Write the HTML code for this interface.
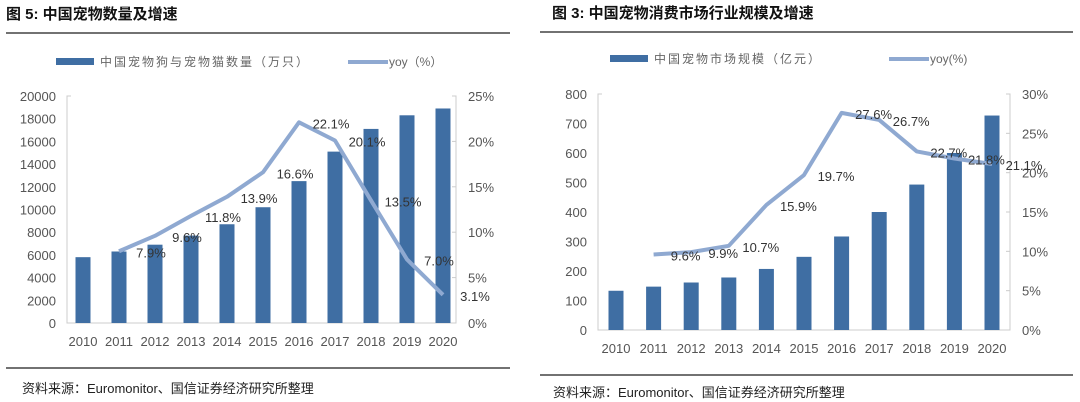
<!DOCTYPE html>
<html><head><meta charset="utf-8"><style>
html,body{margin:0;padding:0;background:#fff;}
svg{display:block;font-family:"Liberation Sans","Noto Sans CJK SC",sans-serif;}
</style></head><body>
<svg id="s" width="1080" height="402" viewBox="0 0 1080 402">
<text x="6" y="19" font-size="15" font-weight="bold" fill="#111">图 5:  中国宠物数量及增速</text>
<line x1="6" y1="33" x2="510" y2="33" stroke="#444" stroke-width="1.5"/>
<text x="552" y="18" font-size="15" font-weight="bold" fill="#111">图 3:  中国宠物消费市场行业规模及增速</text>
<line x1="540" y1="32" x2="1073" y2="32" stroke="#444" stroke-width="1.5"/>
<g id="L"></g><g id="R"></g>
<line x1="6" y1="368" x2="510" y2="368" stroke="#444" stroke-width="1.5"/>
<text x="22" y="393" font-size="13" fill="#222">资料来源：Euromonitor、国信证券经济研究所整理</text>
<line x1="540" y1="375" x2="1073" y2="375" stroke="#444" stroke-width="1.5"/>
<text x="553" y="397" font-size="13" fill="#222">资料来源：Euromonitor、国信证券经济研究所整理</text>
</svg>
<script>
const years = ["2010","2011","2012","2013","2014","2015","2016","2017","2018","2019","2020"];
const petCount = [5800,6300,6900,7700,8700,10200,12500,15100,17100,18300,18900];
const petCountYoy = [null,7.9,9.6,11.8,13.9,16.6,22.1,20.1,13.5,7.0,3.1];
const leftTicks = [0,2000,4000,6000,8000,10000,12000,14000,16000,18000,20000];
const leftPctTicks = [0,5,10,15,20,25];
const marketSize = [133,147,161,178,207,248,317,400,493,600,727];
const marketYoy = [null,9.6,9.9,10.7,15.9,19.7,27.6,26.7,22.7,21.8,21.1];
const rightTicks = [0,100,200,300,400,500,600,700,800];
const rightPctTicks = [0,5,10,15,20,25,30];
const NS="http://www.w3.org/2000/svg";
function mk(g,tag,at,txt){const e=document.createElementNS(NS,tag);for(const k in at)e.setAttribute(k,at[k]);if(txt!=null)e.textContent=txt;g.appendChild(e);return e;}
function draw(gid,c){
  const g=document.getElementById(gid);
  const y=v=>c.y0-v/c.vmax*(c.y0-c.y1);
  const yp=v=>c.y0-v/c.pmax*(c.y0-c.y1);
  const x=i=>c.x0+i*c.step;
  let e;
  e=mk(g,'rect',{x:c.legX,y:c.legY-4,width:38,height:7,fill:'#3f6ea3'});
  
  
  e=mk(g,'text',{x:c.legX+44,y:c.legY+4,'font-size':12,fill:'#666','letter-spacing':'2'},c.legBar);
  
  
  e=mk(g,'line',{x1:c.legX2,y1:c.legY,x2:c.legX2+40,y2:c.legY,stroke:'#8fa9d1','stroke-width':4});
  
  
  e=mk(g,'text',{x:c.legX2+41,y:c.legY+4,'font-size':12,fill:'#666'},c.legLine);
  
  
  e=mk(g,'polyline',{points:`${c.ax+4},${c.y1} ${c.ax},${c.y1} ${c.ax},${c.y0} ${c.bx},${c.y0} ${c.bx},${c.y1} ${c.bx-4},${c.y1}`,fill:'none',stroke:'#ccc','stroke-width':1});
  
  
  c.ticks.forEach(t=>{
    e=mk(g,'text',{x:c.ax-11,y:y(t)+5,'font-size':13,fill:'#555','text-anchor':'end'},String(t));
    
    
  });
  c.pticks.forEach(t=>{
    mk(g,'line',{x1:c.bx-4,y1:yp(t),x2:c.bx,y2:yp(t),stroke:'#ccc'});
    e=mk(g,'text',{x:c.bx+12,y:yp(t)+5,'font-size':13,fill:'#555'},t+'%');
    
    
  });
  years.forEach((yr,i)=>{
    e=mk(g,'rect',{x:x(i)-c.bw/2,y:y(c.bars[i]),width:c.bw,height:c.y0-y(c.bars[i]),fill:'#3f6ea3'});
    
    
    e=mk(g,'text',{x:x(i),y:c.y0+23,'font-size':13,fill:'#555','text-anchor':'middle'},yr);
    
    
  });
  const pts=[];c.line.forEach((v,i)=>{if(v!=null)pts.push(x(i)+','+yp(v));});
  e=mk(g,'polyline',{points:pts.join(' '),fill:'none',stroke:'#8fa9d1','stroke-width':4,'stroke-linejoin':'round'});
  
  
  c.line.forEach((v,i)=>{if(v==null)return;
    e=mk(g,'text',{x:x(i)+32,y:yp(v)+6,'font-size':13,fill:'#333','text-anchor':'middle'},v.toFixed(1)+'%');
    
    
  });
}
draw('L',{x0:83,step:36,bw:15,y0:323,y1:96,vmax:20000,pmax:25,ax:67,bx:456,ticks:leftTicks,pticks:leftPctTicks,bars:petCount,line:petCountYoy,legX:56,legY:62,legX2:348,legBar:'中国宠物狗与宠物猫数量（万只）',legLine:'yoy（%）'});
draw('R',{x0:616,step:37.6,bw:15,y0:330,y1:94,vmax:800,pmax:30,ax:598,bx:1010,ticks:rightTicks,pticks:rightPctTicks,bars:marketSize,line:marketYoy,legX:610,legY:59,legX2:889,legBar:'中国宠物市场规模（亿元）',legLine:'yoy(%)'});
</script>
</body></html>
